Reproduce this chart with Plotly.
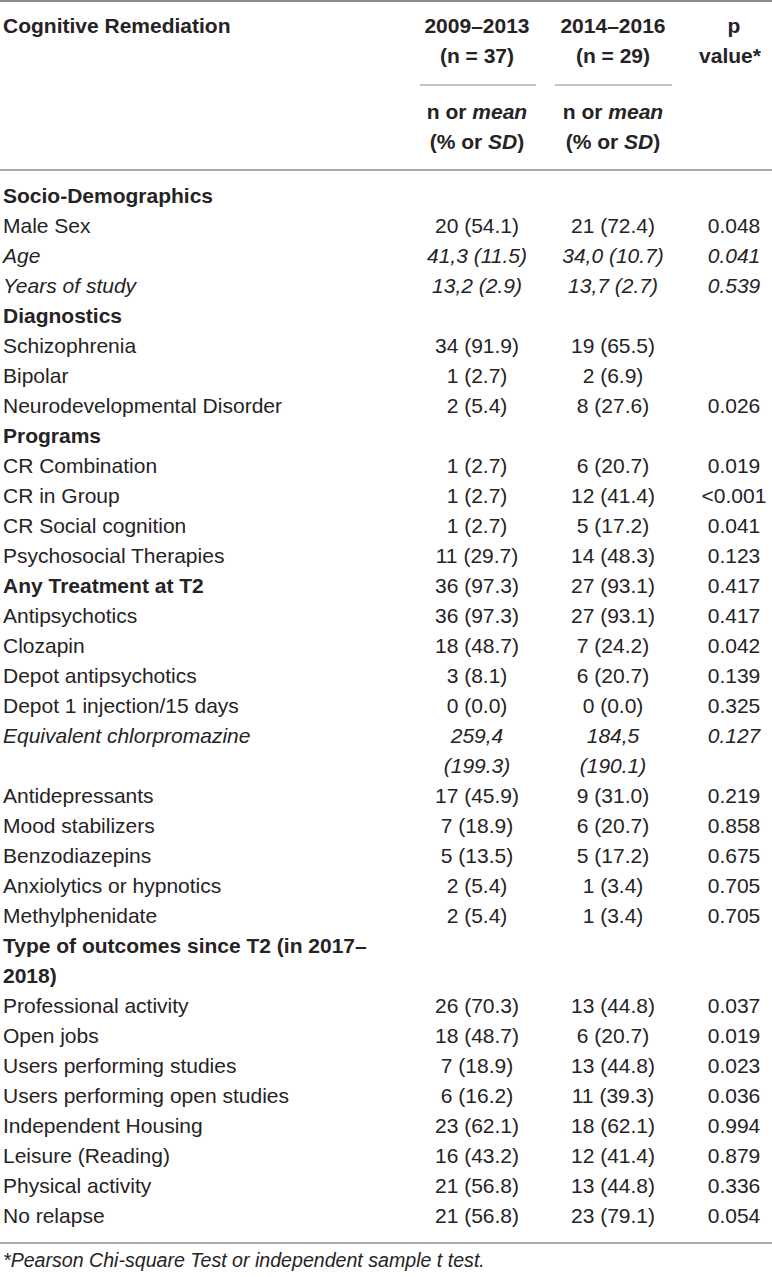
import plotly.graph_objects as go

# ---- data ----
header_title = "Cognitive Remediation"
group_names = ["2009–2013", "2014–2016"]
group_ns = ["(n = 37)", "(n = 29)"]
stat_label_1 = "n or <i>mean</i>"
stat_label_2 = "(% or <i>SD</i>)"
p_header = ["p", "value*"]

row_labels = [
    "Socio-Demographics", "Male Sex", "Age", "Years of study", "Diagnostics",
    "Schizophrenia", "Bipolar", "Neurodevelopmental Disorder", "Programs",
    "CR Combination", "CR in Group", "CR Social cognition", "Psychosocial Therapies",
    "Any Treatment at T2", "Antipsychotics", "Clozapin", "Depot antipsychotics",
    "Depot 1 injection/15 days", "Equivalent chlorpromazine", "",
    "Antidepressants", "Mood stabilizers", "Benzodiazepins", "Anxiolytics or hypnotics",
    "Methylphenidate", "Type of outcomes since T2 (in 2017–", "2018)",
    "Professional activity", "Open jobs", "Users performing studies",
    "Users performing open studies", "Independent Housing", "Leisure (Reading)",
    "Physical activity", "No relapse",
]
col_2009_2013 = [
    "", "20 (54.1)", "41,3 (11.5)", "13,2 (2.9)", "",
    "34 (91.9)", "1 (2.7)", "2 (5.4)", "",
    "1 (2.7)", "1 (2.7)", "1 (2.7)", "11 (29.7)",
    "36 (97.3)", "36 (97.3)", "18 (48.7)", "3 (8.1)",
    "0 (0.0)", "259,4", "(199.3)",
    "17 (45.9)", "7 (18.9)", "5 (13.5)", "2 (5.4)",
    "2 (5.4)", "", "",
    "26 (70.3)", "18 (48.7)", "7 (18.9)",
    "6 (16.2)", "23 (62.1)", "16 (43.2)",
    "21 (56.8)", "21 (56.8)",
]
col_2014_2016 = [
    "", "21 (72.4)", "34,0 (10.7)", "13,7 (2.7)", "",
    "19 (65.5)", "2 (6.9)", "8 (27.6)", "",
    "6 (20.7)", "12 (41.4)", "5 (17.2)", "14 (48.3)",
    "27 (93.1)", "27 (93.1)", "7 (24.2)", "6 (20.7)",
    "0 (0.0)", "184,5", "(190.1)",
    "9 (31.0)", "6 (20.7)", "5 (17.2)", "1 (3.4)",
    "1 (3.4)", "", "",
    "13 (44.8)", "6 (20.7)", "13 (44.8)",
    "11 (39.3)", "18 (62.1)", "12 (41.4)",
    "13 (44.8)", "23 (79.1)",
]
col_p = [
    "", "0.048", "0.041", "0.539", "",
    "", "", "0.026", "",
    "0.019", "<0.001", "0.041", "0.123",
    "0.417", "0.417", "0.042", "0.139",
    "0.325", "0.127", "",
    "0.219", "0.858", "0.675", "0.705",
    "0.705", "", "",
    "0.037", "0.019", "0.023",
    "0.036", "0.994", "0.879",
    "0.336", "0.054",
]
bold_rows = ["Socio-Demographics", "Diagnostics", "Programs", "Any Treatment at T2",
             "Type of outcomes since T2 (in 2017–", "2018)"]
italic_row_idx = [2, 3, 18, 19]
footnote = "*Pearson Chi-square Test or independent sample t test."

# ---- layout constants ----
W, H = 772, 1277
FONT = "Liberation Sans, Arial, sans-serif"
FS = 21
FS_NOTE = 19.6
COLOR = "#262324"
LINE = "#8c8c8c"
X_LABEL = 3
X_C1, X_C2, X_C3 = 477, 613, 734
Y_FIRST, PITCH = 198, 30.0
y_rows = [Y_FIRST + PITCH * i for i in range(len(row_labels))]


def fmt(s, i, is_label=False):
    if not s:
        return s
    if i in italic_row_idx:
        return "<i>" + s + "</i>"
    if is_label and s in bold_rows:
        return "<b>" + s + "</b>"
    return s


fig = go.Figure()
font = dict(family=FONT, size=FS, color=COLOR)

# body labels
fig.add_trace(go.Scatter(
    x=[X_LABEL] * len(row_labels), y=y_rows,
    text=[fmt(s, i, True) for i, s in enumerate(row_labels)],
    mode="text", textposition="middle right", textfont=font,
    hoverinfo="skip", showlegend=False))
for xc, col in [(X_C1, col_2009_2013), (X_C2, col_2014_2016), (X_C3, col_p)]:
    fig.add_trace(go.Scatter(
        x=[xc] * len(col), y=y_rows,
        text=[fmt(s, i) for i, s in enumerate(col)],
        mode="text", textposition="middle center", textfont=font,
        hoverinfo="skip", showlegend=False))

# header
hy = [28, 58, 114, 144]
fig.add_trace(go.Scatter(
    x=[X_LABEL], y=[hy[0]], text=["<b>" + header_title + "</b>"],
    mode="text", textposition="middle right", textfont=font,
    hoverinfo="skip", showlegend=False))
hx, hyy, ht = [], [], []
for xc, g, n in [(X_C1, group_names[0], group_ns[0]), (X_C2, group_names[1], group_ns[1])]:
    hx += [xc, xc, xc, xc]
    hyy += hy
    ht += ["<b>" + g + "</b>", "<b>" + n + "</b>", "<b>" + stat_label_1 + "</b>",
           "<b>" + stat_label_2 + "</b>"]
hx += [X_C3, X_C3 - 4]
hyy += [hy[0], hy[1]]
ht += ["<b>" + p_header[0] + "</b>", "<b>" + p_header[1] + "</b>"]
fig.add_trace(go.Scatter(
    x=hx, y=hyy, text=ht, mode="text", textposition="middle center", textfont=font,
    hoverinfo="skip", showlegend=False))

# footnote
fig.add_trace(go.Scatter(
    x=[X_LABEL], y=[1262], text=["<i>" + footnote + "</i>"],
    mode="text", textposition="middle right",
    textfont=dict(family=FONT, size=FS_NOTE, color=COLOR),
    hoverinfo="skip", showlegend=False))

# rules
shapes = []
for y, x0, x1, w in [(1, 0, W, 2), (170, 0, W, 1.5), (1243, 0, W, 1.5),
                     (85, 420, 536, 1.2), (85, 555, 672, 1.2)]:
    shapes.append(dict(type="line", xref="x", yref="y", x0=x0, x1=x1, y0=y, y1=y,
                       line=dict(color=LINE, width=w)))

fig.update_layout(
    width=W, height=H, margin=dict(l=0, r=0, t=0, b=0),
    paper_bgcolor="white", plot_bgcolor="white",
    xaxis=dict(range=[0, W], visible=False, fixedrange=True),
    yaxis=dict(range=[H, 0], visible=False, fixedrange=True),
    shapes=shapes,
)
fig.write_html(
    "out.html",
    config={"displayModeBar": False},
    post_script="document.body.style.margin='0';document.body.style.padding='0';"
                "document.body.style.overflow='hidden';",
)
